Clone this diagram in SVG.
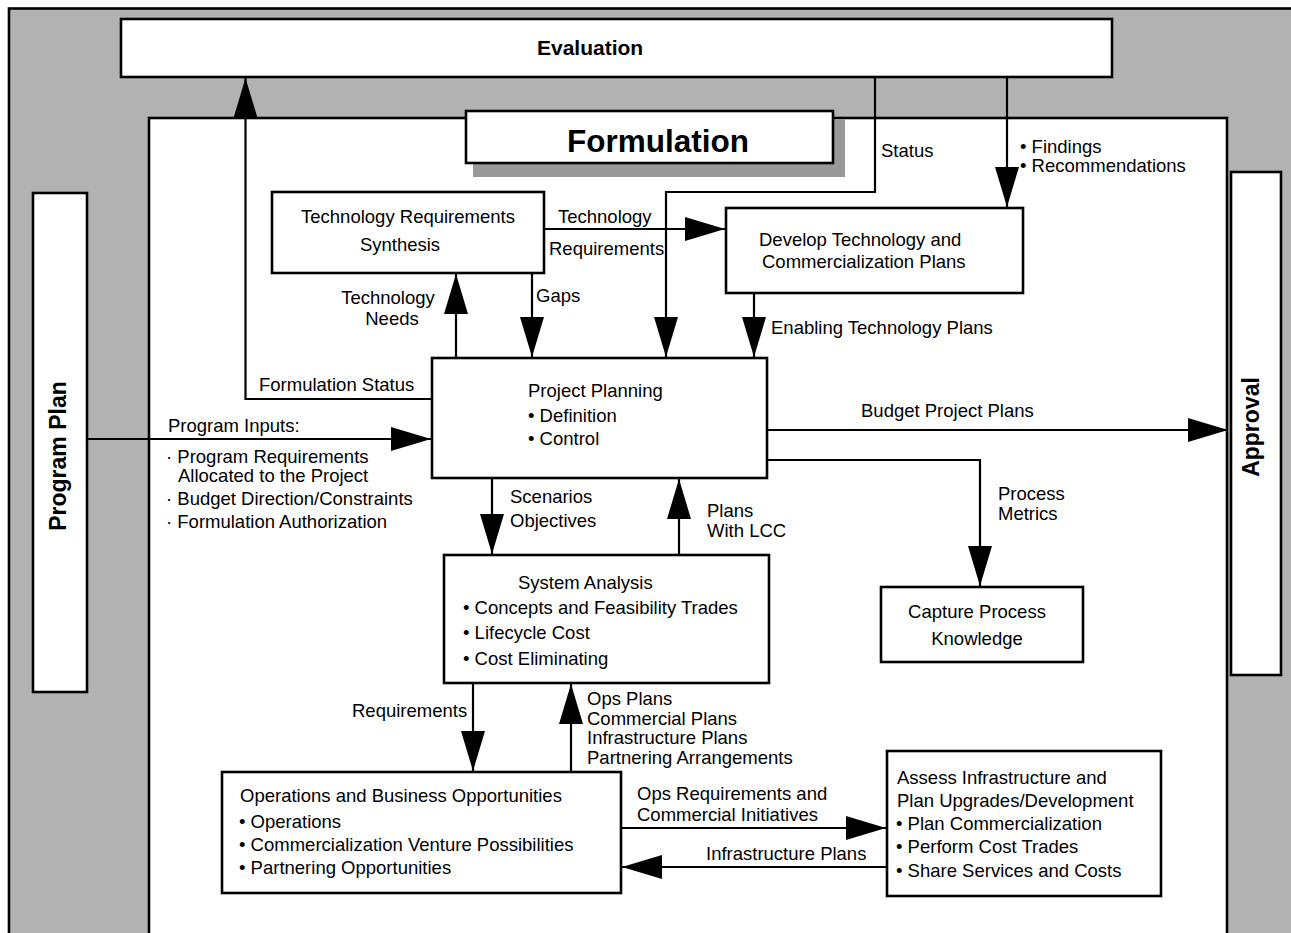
<svg xmlns="http://www.w3.org/2000/svg" width="1291" height="933" viewBox="0 0 1291 933">
  <style>
    .box { fill: #ffffff; stroke: #000000; stroke-width: 2.6; }
    .wire { fill: none; stroke: #000000; stroke-width: 2.2; }
    .t { font-family: "Liberation Sans", Arial, sans-serif; font-size: 18.5px; fill: #000000; }
    .tb { font-family: "Liberation Sans", Arial, sans-serif; font-weight: bold; fill: #000000; }
    .mid { text-anchor: middle; }
  </style>
  <defs>
    <marker id="head" markerUnits="userSpaceOnUse" markerWidth="40" markerHeight="24" refX="40" refY="12" orient="auto" viewBox="0 0 40 24">
      <path d="M0,0 L40,12 L0,24 Z" fill="#000000"/>
    </marker>
  </defs>

  <!-- gray frame and white formulation area -->
  <rect x="9" y="8.5" width="1300" height="940" fill="#b2b2b2" stroke="#000000" stroke-width="2.6"/>
  <rect x="149" y="118" width="1078" height="840" class="box"/>

  <!-- connectors -->
  <g id="connectors">
    <!-- Formulation Status to Evaluation -->
    <path class="wire" d="M434,399 L245.5,399 L245.5,78" marker-end="url(#head)"/>
    <!-- Status from Evaluation to Project Planning -->
    <path class="wire" d="M875,77 L875,192 L666,192 L666,357" marker-end="url(#head)"/>
    <!-- Findings / Recommendations -->
    <path class="wire" d="M1007,77 L1007,207" marker-end="url(#head)"/>
    <!-- Technology Requirements -->
    <path class="wire" d="M544,229 L725,229" marker-end="url(#head)"/>
    <!-- Technology Needs -->
    <path class="wire" d="M456,358 L456,274" marker-end="url(#head)"/>
    <!-- Gaps -->
    <path class="wire" d="M532,273 L532,357" marker-end="url(#head)"/>
    <!-- Enabling Technology Plans -->
    <path class="wire" d="M754,293 L754,357" marker-end="url(#head)"/>
    <!-- Program Inputs -->
    <path class="wire" d="M87,439 L431,439" marker-end="url(#head)"/>
    <!-- Budget Project Plans -->
    <path class="wire" d="M767,430 L1228,430" marker-end="url(#head)"/>
    <!-- Process Metrics -->
    <path class="wire" d="M767,460 L980,460 L980,586" marker-end="url(#head)"/>
    <!-- Scenarios / Objectives -->
    <path class="wire" d="M492,478 L492,554" marker-end="url(#head)"/>
    <!-- Plans With LCC -->
    <path class="wire" d="M679,555 L679,479" marker-end="url(#head)"/>
    <!-- Requirements -->
    <path class="wire" d="M473,683 L473,771" marker-end="url(#head)"/>
    <!-- Ops / Commercial / Infrastructure / Partnering plans -->
    <path class="wire" d="M571,772 L571,684" marker-end="url(#head)"/>
    <!-- Ops Requirements and Commercial Initiatives -->
    <path class="wire" d="M621,828 L886,828" marker-end="url(#head)"/>
    <!-- Infrastructure Plans -->
    <path class="wire" d="M887,867 L622,867" marker-end="url(#head)"/>
  </g>

  <!-- connector labels -->
  <g id="labels" class="t">
    <text x="259" y="391">Formulation Status</text>
    <text x="881" y="157">Status</text>
    <text x="1020" y="153">• Findings</text>
    <text x="1020" y="172">• Recommendations</text>
    <text x="558" y="223">Technology</text>
    <text x="549" y="255">Requirements</text>
    <text x="388" y="304" class="mid">Technology</text>
    <text x="392" y="325" class="mid">Needs</text>
    <text x="536" y="302">Gaps</text>
    <text x="771" y="334">Enabling Technology Plans</text>
    <text x="168" y="432">Program Inputs:</text>
    <text x="166" y="463">· Program Requirements</text>
    <text x="178" y="482">Allocated to the Project</text>
    <text x="166" y="505">· Budget Direction/Constraints</text>
    <text x="166" y="528">· Formulation Authorization</text>
    <text x="861" y="417">Budget Project Plans</text>
    <text x="998" y="500">Process</text>
    <text x="998" y="520">Metrics</text>
    <text x="510" y="503">Scenarios</text>
    <text x="510" y="527">Objectives</text>
    <text x="707" y="517">Plans</text>
    <text x="707" y="537">With LCC</text>
    <text x="352" y="717">Requirements</text>
    <text x="587" y="705">Ops Plans</text>
    <text x="587" y="725">Commercial Plans</text>
    <text x="587" y="744">Infrastructure Plans</text>
    <text x="587" y="764">Partnering Arrangements</text>
    <text x="637" y="800">Ops Requirements and</text>
    <text x="637" y="821">Commercial Initiatives</text>
    <text x="706" y="860">Infrastructure Plans</text>
  </g>

  <!-- nodes -->
  <g id="evaluation">
    <rect x="121" y="19" width="991" height="58" class="box"/>
    <text x="537" y="55" class="tb" font-size="21">Evaluation</text>
  </g>

  <g id="formulation">
    <rect x="473" y="119" width="372" height="58" fill="#999999"/>
    <rect x="466" y="111" width="367" height="52" class="box"/>
    <text x="567" y="152" class="tb" font-size="31.5">Formulation</text>
  </g>

  <g id="program-plan">
    <rect x="33" y="193" width="54" height="499" class="box"/>
    <text transform="translate(66,456) rotate(-90)" class="tb mid" font-size="23">Program Plan</text>
  </g>

  <g id="approval">
    <rect x="1231" y="172" width="50" height="503" class="box"/>
    <text transform="translate(1259,427) rotate(-90)" class="tb mid" font-size="23">Approval</text>
  </g>

  <g id="tech-req-synthesis">
    <rect x="272" y="192" width="272" height="81" class="box"/>
    <text x="408" y="223" class="t mid">Technology Requirements</text>
    <text x="400" y="251" class="t mid">Synthesis</text>
  </g>

  <g id="develop-plans">
    <rect x="726" y="208" width="297" height="85" class="box"/>
    <text x="759" y="246" class="t">Develop Technology and</text>
    <text x="762" y="268" class="t">Commercialization Plans</text>
  </g>

  <g id="project-planning">
    <rect x="432" y="358" width="335" height="120" class="box"/>
    <text x="528" y="397" class="t">Project Planning</text>
    <text x="528" y="422" class="t">• Definition</text>
    <text x="528" y="445" class="t">• Control</text>
  </g>

  <g id="system-analysis">
    <rect x="444" y="555" width="325" height="128" class="box"/>
    <text x="518" y="589" class="t">System Analysis</text>
    <text x="463" y="614" class="t">• Concepts and Feasibility Trades</text>
    <text x="463" y="639" class="t">• Lifecycle Cost</text>
    <text x="463" y="665" class="t">• Cost Eliminating</text>
  </g>

  <g id="capture-knowledge">
    <rect x="881" y="587" width="202" height="75" class="box"/>
    <text x="977" y="618" class="t mid">Capture Process</text>
    <text x="977" y="645" class="t mid">Knowledge</text>
  </g>

  <g id="ops-business">
    <rect x="222" y="772" width="399" height="121" class="box"/>
    <text x="240" y="802" class="t">Operations and Business Opportunities</text>
    <text x="239" y="828" class="t">• Operations</text>
    <text x="239" y="851" class="t">• Commercialization Venture Possibilities</text>
    <text x="239" y="874" class="t">• Partnering Opportunities</text>
  </g>

  <g id="assess-infrastructure">
    <rect x="887" y="751" width="274" height="145" class="box"/>
    <text x="897" y="784" class="t">Assess Infrastructure and</text>
    <text x="897" y="807" class="t">Plan Upgrades/Development</text>
    <text x="896" y="830" class="t">• Plan Commercialization</text>
    <text x="896" y="853" class="t">• Perform Cost Trades</text>
    <text x="896" y="877" class="t">• Share Services and Costs</text>
  </g>
</svg>
